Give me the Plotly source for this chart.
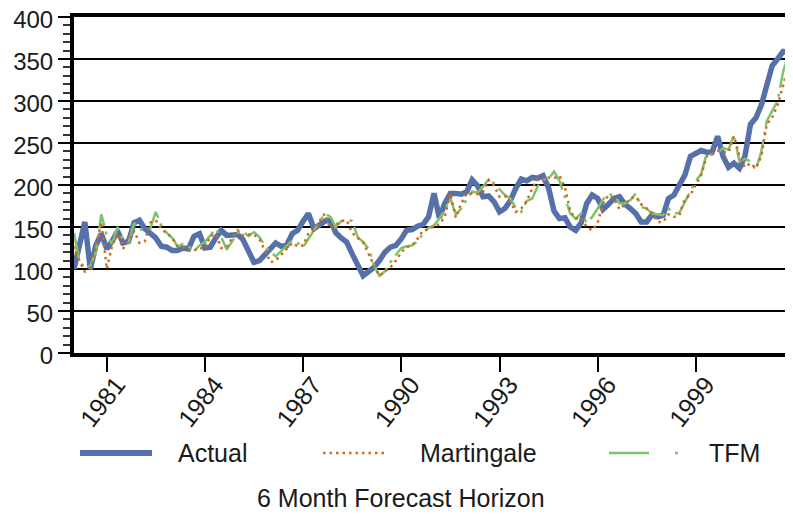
import pandas as pd
import plotly.graph_objects as go

# ---- data (bi-monthly observations, Jan 1980 .. Jan 2002) ----
start_month = "1980-01-01"
actual = [100,125,156,100,128,142,124,133,145,131,
          133,155,158,148,143,137,127,126,122,122,
          125,124,139,142,125,126,137,146,140,141,
          141,135,122,108,110,117,125,131,127,128,
          142,146,157,166,148,153,157,158,143,137,
          132,118,104,92,97,102,110,120,126,128,
          136,146,147,151,153,162,190,161,178,190,
          190,189,192,206,199,186,187,180,168,172,
          181,196,207,205,209,208,211,197,169,160,
          161,150,146,155,178,188,184,171,177,184,
          186,177,172,166,156,156,165,162,164,184,
          188,201,212,234,237,241,239,239,258,234,
          221,226,220,234,272,280,295,320,342,350,
          359,358,349]
martingale = [127,110,97,100,125,156,100,128,142,124,
              133,145,131,133,155,158,148,143,137,127,
              126,122,122,125,124,139,142,125,126,137,
              146,140,141,141,135,122,108,110,117,125,
              131,127,128,142,146,157,166,148,153,157,
              158,143,137,132,118,104,92,97,102,110,
              120,126,128,136,146,147,151,153,162,190,
              161,178,190,190,189,192,206,199,186,187,
              180,168,172,181,196,207,205,209,208,211,
              197,169,160,161,150,146,155,178,188,184,
              171,177,184,186,177,172,166,156,156,165,
              162,164,184,188,201,212,234,237,241,239,
              239,258,234,221,226,220,234,272,280,295,
              320,342,350]
tfm = [143,110,101,104,120,165,140,130,150,134,
       131,155,147,146,148,168,152,143,137,127,
       130,127,121,128,132,140,148,138,123,133,
       143,145,139,144,138,127,120,115,121,128,
       134,131,126,136,146,157,166,162,150,157,
       159,157,138,132,124,105,92,97,108,117,
       125,127,128,133,142,149,152,160,170,184,
       165,172,183,192,191,198,207,202,195,188,
       184,173,168,181,184,198,206,207,216,205,
       185,166,160,166,155,162,172,183,189,188,
       178,178,182,190,174,172,166,165,164,172,
       166,167,180,192,205,213,237,236,239,244,
       242,260,228,231,228,218,240,276,288,300,
       335,356,352]
tick_years = ["1981", "1984", "1987", "1990", "1993", "1996", "1999"]
series_names = ["Actual", "Martingale", "TFM"]
title_text = "6 Month Forecast Horizon"

dates = pd.date_range(start_month, periods=len(actual), freq="2MS")

BLUE = "#5670aa"
ORANGE = "#d2691e"
GREEN = "#7cc46c"
FONT = "Liberation Sans, Arial, sans-serif"

fig = go.Figure()
fig.add_trace(go.Scatter(x=dates, y=actual, mode="lines", name=series_names[0],
                         line=dict(color=BLUE, width=5.5)))
fig.add_trace(go.Scatter(x=dates[:len(tfm)], y=tfm, mode="lines", name=series_names[2],
                         line=dict(color=GREEN, width=2.5, dash="26px,6px,3px,6px")))
fig.add_trace(go.Scatter(x=dates[:len(martingale)], y=martingale, mode="lines", name=series_names[1],
                         line=dict(color=ORANGE, width=2.5, dash="2.5px,4px")))

# page body has an 8px margin: figure is 785x509 so the plot lands at 74..793 x 17..353
fig.update_layout(
    width=785, height=509,
    margin=dict(l=66, r=0, t=9, b=164, autoexpand=False),
    paper_bgcolor="white", plot_bgcolor="white",
    showlegend=False,
    font=dict(family=FONT, size=25, color="#1a1a1a"),
)
fig.update_xaxes(
    automargin=False,
    range=["1980-01-01", "2001-12-20"],
    tickvals=[f"{y}-01-01" for y in tick_years], ticktext=tick_years,
    tickangle=-52, ticks="outside", ticklen=15, tickwidth=1.5, tickcolor="black",
    ticklabelstandoff=-12, ticklabelshift=10, ticklabeloverflow="allow",
    showline=True, linewidth=4, linecolor="black", mirror=True,
    showgrid=False, zeroline=False, tickfont=dict(size=25),
)
fig.update_yaxes(
    automargin=False,
    range=[0, 400], dtick=50, tick0=0,
    ticks="outside", ticklen=12, tickwidth=1.5, tickcolor="black",
    ticklabeloverflow="allow", ticklabelshift=3,
    showline=True, linewidth=4, linecolor="black",
    showgrid=True, gridcolor="black", gridwidth=1.6, zeroline=False,
    minor=dict(dtick=10, ticks="outside", ticklen=7, tickwidth=1.5, tickcolor="#333", showgrid=False),
    tickfont=dict(size=24),
)

# ---- custom legend below the axis (positions in screen pixels of the plot area) ----
def px_x(p):
    return (p - 74) / 719.0

def px_y(p):
    return (353 - p) / 336.0

ly = px_y(453)
legend_items = [
    (series_names[0], dict(color=BLUE, width=6), 80, 152, 176),
    (series_names[1], dict(color=ORANGE, width=2.5, dash="2.5px,4px"), 323, 388, 418),
    (series_names[2], dict(color=GREEN, width=2.5, dash="40px,26px,3px,30px"), 609, 681, 707),
]
for name, ln, x0, x1, tx in legend_items:
    fig.add_shape(type="line", xref="paper", yref="paper",
                  x0=px_x(x0), x1=px_x(x1), y0=ly, y1=ly, line=ln)
    fig.add_annotation(xref="paper", yref="paper", x=px_x(tx), y=ly,
                       text=name, showarrow=False, xanchor="left", yanchor="middle",
                       font=dict(size=25))
fig.add_annotation(xref="paper", yref="paper", x=px_x(401), y=px_y(498),
                   text=title_text, showarrow=False, xanchor="center", yanchor="middle",
                   font=dict(size=25))

fig.write_html("out.html")
